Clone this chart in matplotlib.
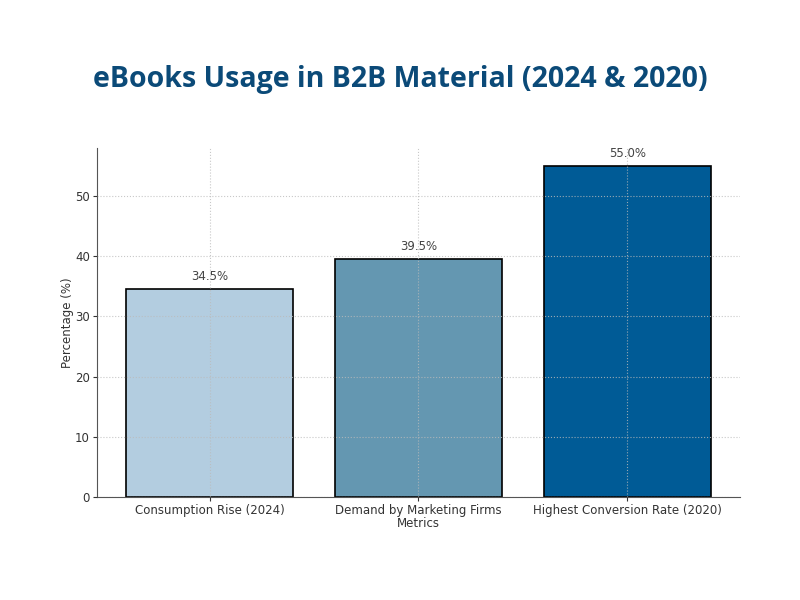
import matplotlib.pyplot as plt

categories = ["Consumption Rise (2024)", "Demand by Marketing Firms", "Highest Conversion Rate (2020)"]
values = [34.5, 39.5, 55.0]
colors = ["#b3cde0", "#6497b1", "#005b96"]
title = "eBooks Usage in B2B Material (2024 & 2020)"

fig = plt.figure(figsize=(8, 6), dpi=100)
ax = fig.add_axes([0.121, 0.172, 0.804, 0.581])

bars = ax.bar(categories, values, color=colors, edgecolor="black", linewidth=1.2, width=0.8)
for b, v in zip(bars, values):
    ax.text(b.get_x() + b.get_width() / 2, v + 1.0, "%.1f%%" % v,
            ha="center", va="bottom", fontsize=8.5, color="#444444")

ax.set_ylim(0, 58)
ax.set_yticks([0, 10, 20, 30, 40, 50])
ax.grid(True, linestyle=":", color="#bbbbbb", linewidth=0.8, alpha=0.8)
ax.set_axisbelow(False)
for s in ["top", "right"]:
    ax.spines[s].set_visible(False)
ax.spines["left"].set_color("#555555")
ax.spines["bottom"].set_color("#555555")
ax.tick_params(labelsize=8.5, colors="#333333", length=3, pad=2)
ax.set_ylabel("Percentage (%)", fontsize=8.5, color="#333333", labelpad=1)
ax.set_xlabel("Metrics", fontsize=8.5, color="#333333", labelpad=0)

fig.text(0.5, 0.868, title, ha="center", va="center", fontsize=20.5,
         fontweight="bold", color="#0b4a78", family="Open Sans")

fig.savefig("out.png", dpi=100)
